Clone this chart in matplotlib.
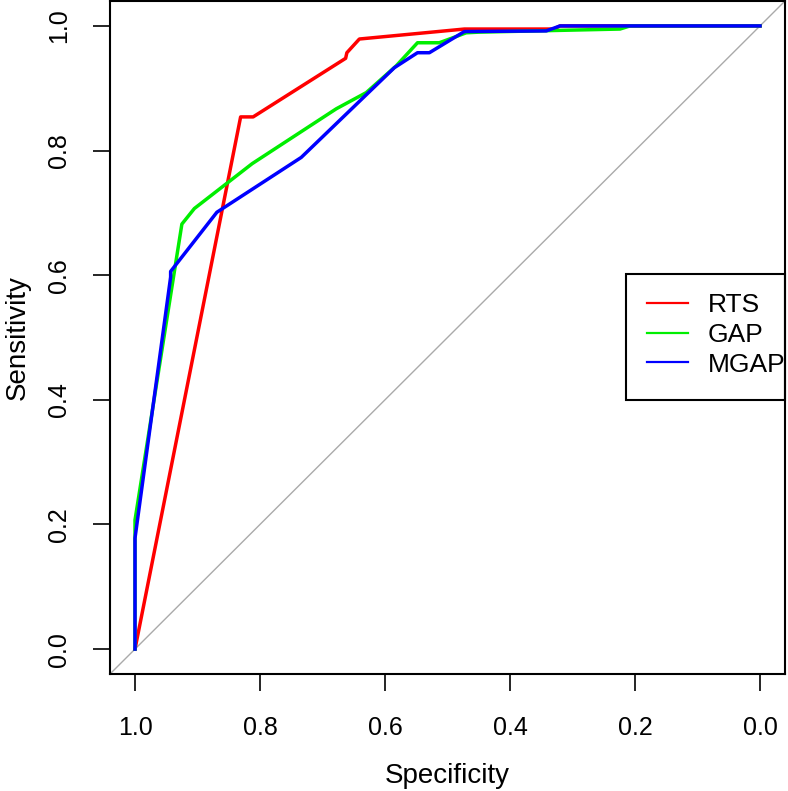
import matplotlib
matplotlib.use("Agg")
import matplotlib.pyplot as plt
from matplotlib.patches import Rectangle

plt.rcParams['font.family'] = ['Liberation Sans', 'DejaVu Sans']

# ROC curves (specificity, sensitivity)
rts_spec = [1.0, 0.831, 0.811, 0.663, 0.661, 0.641, 0.473, 0.33, 0.32, 0.0]
rts_sens = [0.0, 0.854, 0.854, 0.948, 0.957, 0.979, 0.995, 0.995, 1.0, 1.0]

gap_spec = [1.0, 1.0, 0.925, 0.905, 0.8125, 0.678, 0.63, 0.582, 0.548, 0.513, 0.47, 0.45, 0.224, 0.208, 0.0]
gap_sens = [0.0, 0.207, 0.682, 0.707, 0.779, 0.867, 0.893, 0.936, 0.973, 0.973, 0.989, 0.99, 0.995, 1.0, 1.0]

mgap_spec = [1.0, 1.0, 0.943, 0.943, 0.869, 0.734, 0.585, 0.548, 0.529, 0.473, 0.342, 0.32, 0.0]
mgap_sens = [0.0, 0.178, 0.597, 0.606, 0.701, 0.789, 0.933, 0.957, 0.957, 0.991, 0.992, 1.0, 1.0]

labels = ['RTS', 'GAP', 'MGAP']
colors = ['#ff0000', '#00ee00', '#0000ff']
ticks = [0.0, 0.2, 0.4, 0.6, 0.8, 1.0]

fig = plt.figure(figsize=(7.88, 7.91), dpi=100)
ax = fig.add_axes([110 / 788, 117 / 791, 675 / 788, 673 / 791])

ax.axline((1, 0), (0, 1), color='#aaaaaa', lw=1.0, zorder=1)

curves = [(rts_spec, rts_sens), (gap_spec, gap_sens), (mgap_spec, mgap_sens)]
for (x, y), lab, c in zip(curves, labels, colors):
    ax.plot(x, y, color=c, lw=2.5, label=lab, zorder=2)

ax.set_xlim(1.04, -0.04)
ax.set_ylim(-0.04, 1.04)
ax.set_xticks(ticks)
ax.set_yticks(ticks)
ax.set_xticklabels([f'{t:.1f}' for t in ticks], fontsize=18)
ax.set_yticklabels([f'{t:.1f}' for t in ticks], fontsize=18, rotation=90, va='center')
ax.tick_params(length=12, width=1.2)
ax.tick_params(axis='x', pad=18)
ax.tick_params(axis='y', pad=16)
for s in ax.spines.values():
    s.set_linewidth(1.5)

ax.set_xlabel('Specificity', fontsize=20, labelpad=17)
ax.set_ylabel('Sensitivity', fontsize=20, labelpad=12)

# legend box like R's: text runs up to the right edge
ax.add_patch(Rectangle((0.7644, 0.407), 0.2356, 0.1874, transform=ax.transAxes,
                       fill=False, edgecolor='black', lw=1.5, zorder=5, clip_on=False))
leg = ax.legend(loc='upper left', bbox_to_anchor=(0.7956, 0.566), borderaxespad=0,
                borderpad=0, frameon=False, fontsize=19, handlelength=1.55,
                handletextpad=0.75, labelspacing=0.22)
for line in leg.get_lines():
    line.set_linewidth(1.6)

fig.savefig('out.png', dpi=100)
